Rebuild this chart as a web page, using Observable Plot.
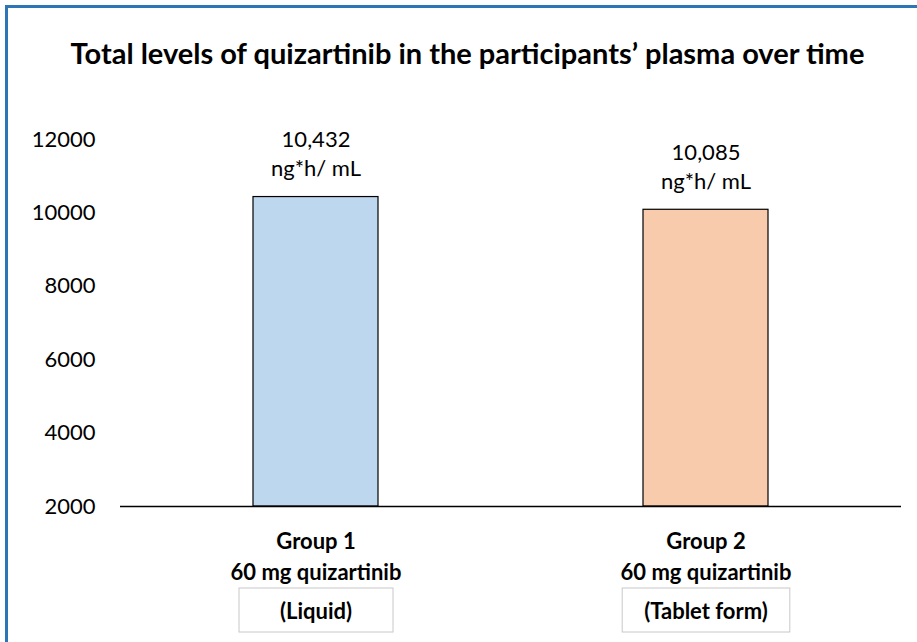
<!DOCTYPE html>
<html>
<head>
<meta charset="utf-8">
<script src="https://cdn.jsdelivr.net/npm/d3@7"></script>
<script src="https://cdn.jsdelivr.net/npm/@observablehq/plot@0.6"></script>
<style>
  html, body { margin: 0; padding: 0; background: #fff; overflow: hidden; width: 917px; height: 642px; }
  #frame { position: absolute; left: 5px; top: 5px; width: 1000px; height: 800px; border: 3px solid #2E75B6; box-sizing: border-box; }
  #title { position: absolute; left: 8px; top: 35px; width: 919px; text-align: center; font-family: Lato, sans-serif; font-weight: bold; font-size: 29px; line-height: 35px; color: #000; }
  #chart { position: absolute; left: 0; top: 0; }
</style>
</head>
<body>
<div id="frame"></div>
<div id="title">Total levels of quizartinib in the participants’ plasma over time</div>
<div id="chart"></div>
<script>
const groups = ["Group 1", "Group 2"];
const doses = ["60 mg quizartinib", "60 mg quizartinib"];
const forms = ["(Liquid)", "(Tablet form)"];
const values = [10432, 10085];
const unit = "ng*h/ mL";
const yTicks = [2000, 4000, 6000, 8000, 10000, 12000];
const colors = ["#BDD7EE", "#F8CBAD"];

const data = groups.map((g, i) => ({group: g, dose: doses[i], form: forms[i], value: values[i], color: colors[i]}));
const base = yTicks[0];
const fmt = d3.format(",");

const plot = Plot.plot({
  width: 917,
  height: 642,
  marginLeft: 120,
  marginRight: 16,
  marginTop: 139,
  marginBottom: 136,
  style: {fontFamily: "Lato, sans-serif", color: "#000", background: "transparent", overflow: "visible"},
  x: {domain: groups, paddingInner: 0.68, paddingOuter: 0.34, align: 0.5, axis: null},
  y: {domain: [base, yTicks[yTicks.length - 1]], axis: null},
  marks: [
    Plot.barY(data, {x: "group", y1: () => base, y2: "value", fill: "color", stroke: "#000", strokeWidth: 1.2}),
    Plot.ruleY([base], {stroke: "#000", strokeWidth: 1.3}),
    Plot.axisY({ticks: yTicks, tickSize: 0, tickPadding: 25, fontSize: 22, tickFormat: d3.format("d"), label: null}),
    Plot.text(data, {x: "group", y: "value", text: d => fmt(d.value) + "\n" + unit, lineAnchor: "bottom", dy: -21, fontSize: 22, lineHeight: 1.32}),
    Plot.text(data, {x: "group", frameAnchor: "bottom", text: "group", dy: 42, fontSize: 22, fontWeight: "bold"}),
    Plot.text(data, {x: "group", frameAnchor: "bottom", text: "dose", dy: 73, fontSize: 22, fontWeight: "bold"}),
    Plot.text(data, {x: "group", frameAnchor: "bottom", text: "form", dy: 112, fontSize: 22, fontWeight: "bold"})
  ]
});
document.getElementById("chart").appendChild(plot);

// boxes around the form labels
requestAnimationFrame(() => {
  const svgRect = plot.getBoundingClientRect();
  const svg = d3.select(plot);
  svg.selectAll("text").filter(function() { return forms.includes(this.textContent); }).each(function() {
    const r = this.getBoundingClientRect();
    const cx = r.left + r.width / 2 - svgRect.left;
    const cy = r.top + r.height / 2 - svgRect.top;
    const w = Math.max(r.width + 44, 154);
    svg.append("rect")
      .attr("x", cx - w / 2).attr("y", cy - 22)
      .attr("width", w).attr("height", 44)
      .attr("fill", "none").attr("stroke", "#c8c8c8").attr("stroke-width", 1);
  });
});
</script>
</body>
</html>
